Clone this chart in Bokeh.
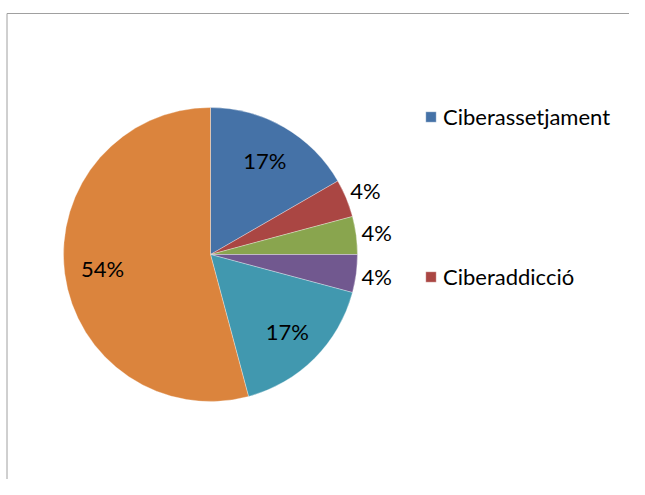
import math
from bokeh.plotting import figure
from bokeh.models import Range1d, ColumnDataSource, Legend, LegendItem
from bokeh.core.properties import value
from bokeh.embed import file_html
from bokeh.resources import INLINE

# ---- data ----
categories = ["Ciberassetjament", "Ciberaddicció", "Categoria 3", "Categoria 4", "Categoria 5", "Categoria 6"]
counts = [4, 1, 1, 1, 4, 13]
colors = ["#4572A7", "#AA4643", "#89A54E", "#71588F", "#4198AF", "#DB843D"]
legend_shown = ["Ciberassetjament", "Ciberaddicció"]

FONT = "Lato"
FS = "22px"
W, H = 629, 479
CX, CY, R = 210, H - 254, 147

total = sum(counts)
starts, ends, pcts, lx, ly = [], [], [], [], []
cum = 0
for c in counts:
    a0 = math.pi / 2 - 2 * math.pi * cum / total
    cum += c
    a1 = math.pi / 2 - 2 * math.pi * cum / total
    starts.append(a0)
    ends.append(a1)
    frac = c / total
    pcts.append(f"{round(100 * frac)}%")
    mid = (a0 + a1) / 2
    r = R * 0.74 if frac > 0.1 else R * 1.14
    lx.append(CX + r * math.cos(mid))
    ly.append(CY + r * math.sin(mid))

src = ColumnDataSource(dict(cat=categories, start=starts, end=ends, color=colors,
                            pct=pcts, lx=lx, ly=ly))

p = figure(width=W, height=H, output_backend="svg", toolbar_location=None,
           x_range=Range1d(0, W), y_range=Range1d(0, H),
           x_axis_type=None, y_axis_type=None, min_border=0,
           outline_line_color=None)
p.grid.visible = False

# chart border (top and left visible)
p.line(x=[6.5, 6.5], y=[0, H - 13], line_color="#a0a0a0", line_width=1)
p.line(x=[6.5, W], y=[H - 13, H - 13], line_color="#a0a0a0", line_width=1)

wr = p.wedge(x=CX, y=CY, radius=R, radius_units="screen", start_angle="start",
             end_angle="end", direction="clock", fill_color="color",
             line_color="white", line_width=0.4, line_alpha=0.8, source=src)

p.text(x="lx", y="ly", text="pct", source=src, text_align="center",
       text_baseline="middle", text_font=value(FONT), text_font_size=FS,
       text_color="#000000")

items = [LegendItem(label=categories[i], renderers=[wr], index=i)
         for i in range(len(categories)) if categories[i] in legend_shown]
legend = Legend(items=items, location=(424, 188), glyph_width=13, glyph_height=13,
                label_standoff=6, spacing=130, padding=0, margin=0,
                border_line_alpha=0, background_fill_alpha=0,
                label_text_font=FONT, label_text_font_size=FS,
                label_height=30, label_text_color="#000000")
p.add_layout(legend)

open("out.html", "w").write(file_html(p, INLINE))
